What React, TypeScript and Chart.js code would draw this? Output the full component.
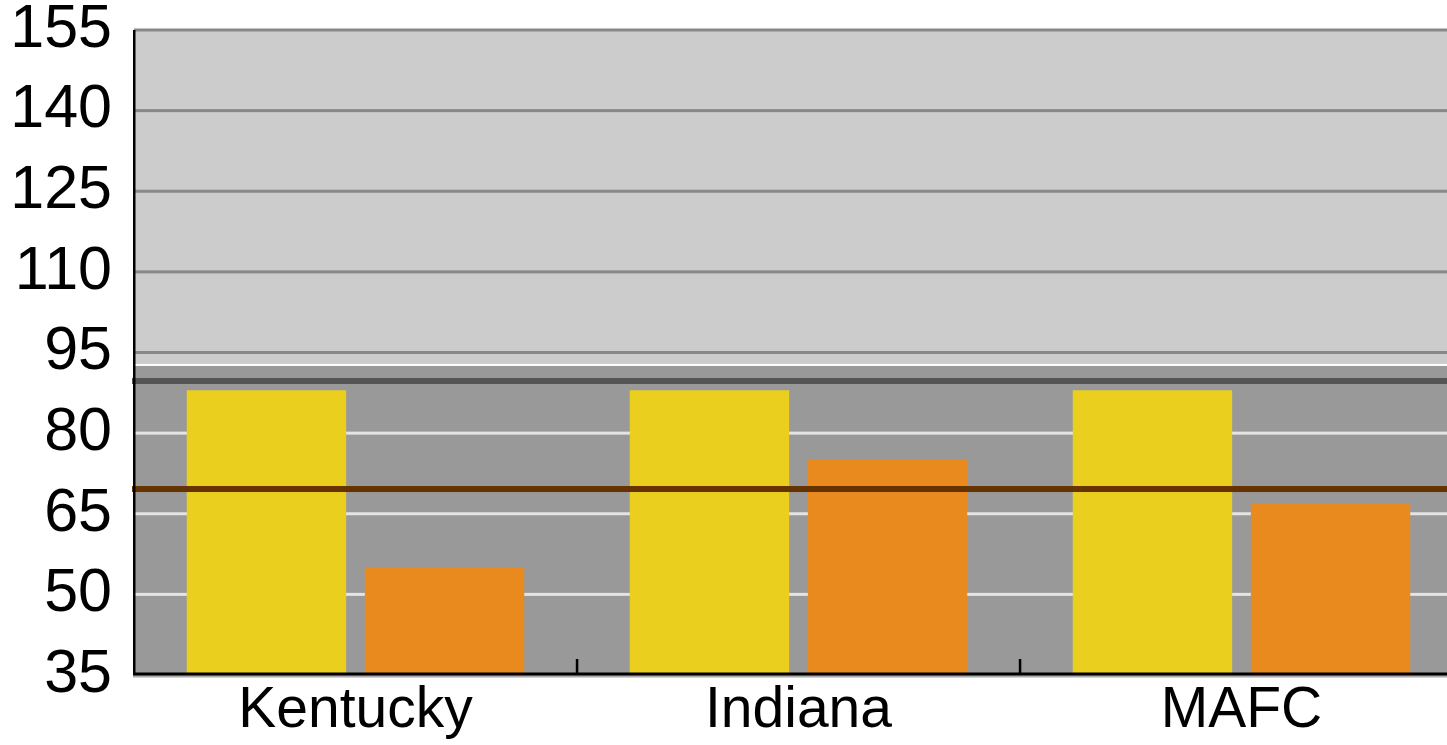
import React, { useEffect, useRef } from "react";
import { Chart, registerables } from "chart.js";

Chart.register(...registerables);

const categories = ["Kentucky", "Indiana", "MAFC"];
const seriesYellow = [88, 88, 88];
const seriesOrange = [55, 75, 67];
const yMin = 35;
const yMax = 155;
const yStep = 15;
const bandSplit = 92.5;
const darkLine = 89.7;
const brownLine = 69.6;

const FONT = "'Liberation Sans', Arial, sans-serif";

const decorPlugin = {
  id: "decor",
  beforeDatasetsDraw(chart: any) {
    const { ctx, chartArea, scales } = chart;
    const { left, right, top, bottom } = chartArea;
    const y = scales.y;
    const yb = y.getPixelForValue(bandSplit);
    ctx.save();
    ctx.fillStyle = "#cccccc";
    ctx.fillRect(left, top, right - left, yb - top);
    ctx.fillStyle = "#999999";
    ctx.fillRect(left, yb, right - left, bottom - yb);
    ctx.fillStyle = "#ffffff";
    ctx.fillRect(left, yb - 2, right - left, 2);
    for (const t of y.ticks) {
      const v = t.value;
      if (v <= yMin) continue;
      const py = y.getPixelForValue(v);
      ctx.fillStyle = v > bandSplit ? "#888888" : "#e4e4e4";
      ctx.fillRect(left, py - 1.5, right - left, 3);
    }
    ctx.restore();
  },
  afterDatasetsDraw(chart: any) {
    const { ctx, chartArea, scales } = chart;
    const { left, right, top, bottom } = chartArea;
    const x = scales.x;
    const y = scales.y;
    ctx.save();
    const pd = y.getPixelForValue(darkLine);
    ctx.fillStyle = "#555555";
    ctx.fillRect(left - 2, pd - 3, right - left + 2, 6);
    const pb = y.getPixelForValue(brownLine);
    ctx.fillStyle = "#663300";
    ctx.fillRect(left - 2, pb - 3, right - left + 2, 6);
    // axes
    ctx.fillStyle = "#000000";
    ctx.fillRect(left - 1, top, 2.5, bottom - top);
    ctx.fillStyle = "#aaaaaa";
    ctx.fillRect(left - 1, bottom, right - left + 1, 2.5);
    ctx.fillStyle = "#000000";
    ctx.fillRect(left - 1, bottom - 2.5, right - left + 1, 3);
    for (let i = 0; i < categories.length - 1; i++) {
      const bx = (x.getPixelForValue(i) + x.getPixelForValue(i + 1)) / 2;
      ctx.fillRect(bx - 1.2, bottom - 16, 2.5, 16);
    }
    ctx.restore();
  },
};

export default function App() {
  const ref = useRef<HTMLCanvasElement | null>(null);
  useEffect(() => {
    if (!ref.current) return;
    const chart = new Chart(ref.current, {
      type: "bar",
      data: {
        labels: categories,
        datasets: [
          {
            label: "Series 1",
            data: seriesYellow,
            backgroundColor: "#ebcf1f",
            barPercentage: 0.895,
            categoryPercentage: 0.804,
          },
          {
            label: "Series 2",
            data: seriesOrange,
            backgroundColor: "#e98a1f",
            barPercentage: 0.895,
            categoryPercentage: 0.804,
          },
        ],
      },
      options: {
        animation: false,
        responsive: true,
        maintainAspectRatio: false,
        layout: { padding: { top: 30, right: 0, left: 0, bottom: 0 } },
        plugins: { legend: { display: false }, tooltip: { enabled: false } },
        scales: {
          x: {
            grid: { display: false, drawTicks: false },
            border: { display: false },
            ticks: {
              color: "#000",
              padding: 8,
              font: { family: FONT, size: 57, lineHeight: 1 },
            },
            afterFit: (s: any) => {
              s.height = 70;
              s.paddingLeft = 0;
              s.paddingRight = 0;
            },
          },
          y: {
            min: yMin,
            max: yMax,
            grid: { display: false, drawTicks: false },
            border: { display: false },
            ticks: {
              stepSize: yStep,
              color: "#000",
              padding: 22,
              font: { family: FONT, size: 61, lineHeight: 1 },
            },
            afterFit: (s: any) => {
              s.width = 134;
              s.paddingTop = 0;
              s.paddingBottom = 0;
            },
          },
        },
      },
      plugins: [decorPlugin],
    });
    return () => chart.destroy();
  }, []);
  return (
    <div
      style={{
        position: "fixed",
        left: 0,
        top: 0,
        width: 1447,
        height: 745,
        overflow: "hidden",
        background: "#fff",
      }}
    >
      <div style={{ position: "relative", width: 1463, height: 745 }}>
        <canvas ref={ref} />
      </div>
    </div>
  );
}
